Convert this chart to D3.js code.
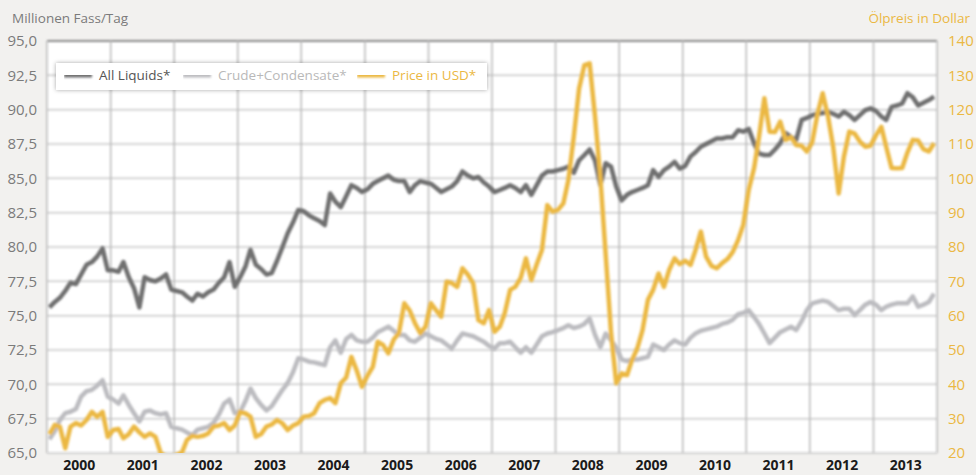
<!DOCTYPE html>
<html>
<head>
<meta charset="utf-8">
<script src="https://cdn.jsdelivr.net/npm/d3@7"></script>
<style>
  body { margin: 0; background: #f2f1ef; }
  svg { display: block; font-family: "Open Sans", "Noto Sans", sans-serif; }
</style>
</head>
<body>
<svg id="chart"></svg>
<script>
// monthly values, Jan 2000 .. Dec 2013
const allLiquids = [
  75.6, 76.0, 76.3, 76.8, 77.4, 77.3, 78.0, 78.7, 78.9, 79.3, 79.9, 78.3,
  78.3, 78.2, 78.9, 77.8, 77.0, 75.6, 77.8, 77.6, 77.5, 77.7, 78.0, 76.9,
  76.8, 76.7, 76.4, 76.1, 76.6, 76.4, 76.7, 76.9, 77.4, 77.8, 78.9, 77.1,
  77.8, 78.6, 79.8, 78.7, 78.4, 78.0, 78.1, 79.0, 80.0, 81.0, 81.8, 82.7,
  82.6, 82.3, 82.1, 81.9, 81.6, 83.9, 83.3, 82.9, 83.7, 84.5, 84.3, 84.0,
  84.2, 84.6, 84.8, 85.0, 85.2, 84.9, 84.8, 84.8, 84.0, 84.5, 84.8, 84.7,
  84.6, 84.3, 84.0, 84.2, 84.4, 84.8, 85.5, 85.2, 85.0, 85.1, 84.7, 84.4,
  84.0, 84.15, 84.3, 84.5, 84.3, 84.0, 84.5, 83.8, 84.5, 85.2, 85.5, 85.5,
  85.6, 85.7, 85.85, 85.4, 86.3, 86.7, 87.1, 86.3, 84.5, 86.1, 85.85, 84.4,
  83.4, 83.8, 84.0, 84.15, 84.3, 84.5, 85.6, 85.1, 85.6, 85.85, 86.2, 85.7,
  85.9, 86.6, 86.9, 87.3, 87.5, 87.7, 87.9, 87.9, 88.0, 88.0, 88.5, 88.4,
  88.6, 87.55, 86.8, 86.7, 86.7, 87.1, 87.55, 88.3, 88.0, 87.8, 89.25, 89.4,
  89.6, 89.7, 89.75, 89.85, 89.7, 89.5, 89.85, 89.6, 89.25, 89.6, 89.97, 90.1,
  89.9, 89.5, 89.25, 90.2, 90.3, 90.45, 91.2, 90.9, 90.3, 90.5, 90.7, 90.95
];

const crude = [
  66.0, 66.6, 67.4, 67.9, 68.0, 68.2, 69.1, 69.5, 69.6, 69.9, 70.3, 69.1,
  68.9, 68.6, 69.2, 68.5, 67.9, 67.3, 68.0, 68.1, 67.9, 67.8, 67.9, 66.9,
  66.8, 66.7, 66.5, 66.3, 66.7, 66.8, 66.9, 67.2, 67.8, 68.6, 68.9, 67.9,
  68.0, 68.8, 69.7, 69.0, 68.5, 68.1, 68.4, 69.0, 69.6, 70.1, 70.9, 71.9,
  71.8, 71.65, 71.6, 71.5, 71.4, 72.7, 73.2, 72.3, 73.3, 73.6, 73.2, 73.1,
  73.1, 73.4, 73.8, 74.0, 74.2, 73.9, 73.6, 73.6, 73.2, 73.1, 73.4, 73.7,
  73.5, 73.3, 73.2, 72.9, 72.6, 73.2, 73.7, 73.6, 73.5, 73.3, 73.1, 72.8,
  72.6, 73.0, 73.0, 73.1, 72.7, 72.3, 72.7, 72.3, 72.9, 73.5, 73.7, 73.8,
  73.95, 74.1, 74.3, 74.1, 74.2, 74.4, 74.8, 73.6, 72.7, 73.7, 73.2, 72.7,
  71.8, 71.7, 71.8, 71.8, 71.9, 72.0, 72.9, 72.7, 72.5, 72.9, 73.2, 73.0,
  72.9, 73.4, 73.7, 73.9, 74.0, 74.1, 74.2, 74.4, 74.5, 74.7, 75.1, 75.2,
  75.4, 74.9, 74.4, 73.7, 73.0, 73.4, 73.8, 74.0, 74.2, 73.95, 74.6, 75.4,
  75.9, 76.0, 76.1, 76.0, 75.7, 75.4, 75.5, 75.5, 75.05, 75.4, 75.8, 76.0,
  75.8, 75.4, 75.65, 75.8, 75.9, 75.9, 75.9, 76.4, 75.65, 75.8, 76.0, 76.6
];

const price = [
  25.5, 28.2, 27.7, 21.4, 27.7, 28.7, 28.0, 29.6, 32.0, 30.5, 32.0, 24.7,
  26.7, 27.0, 24.3, 25.5, 27.7, 26.0, 24.7, 25.7, 24.7, 20.0, 18.8, 18.6,
  19.4, 20.2, 23.8, 25.0, 24.7, 25.0, 25.7, 27.7, 28.0, 28.7, 26.7, 28.0,
  32.0, 31.5, 30.6, 24.7, 25.5, 27.7, 28.3, 29.6, 28.6, 26.7, 28.0, 28.7,
  30.6, 30.8, 31.6, 34.5, 35.5, 36.0, 34.5, 40.3, 42.0, 48.0, 44.0, 39.3,
  42.5, 45.1, 52.4, 51.5, 49.0, 53.0, 54.9, 63.6, 61.5, 57.8, 54.9, 56.8,
  63.6, 61.5, 59.7, 69.9, 69.5, 68.4, 73.8, 72.0, 69.4, 58.7, 57.8, 61.6,
  55.3, 56.8, 60.7, 67.5, 68.4, 71.0, 76.7, 70.4, 75.0, 79.1, 92.2, 90.3,
  90.8, 92.7, 99.5, 112.1, 126.0, 133.0, 133.5, 118.0, 100.0, 78.0, 55.0, 40.3,
  43.2, 42.7, 47.0, 50.5, 55.8, 64.6, 67.5, 72.3, 68.4, 73.3, 76.7, 75.0,
  76.0, 74.8, 79.0, 84.5, 77.2, 74.5, 73.8, 75.3, 76.5, 78.5, 82.0, 86.5,
  96.6, 103.0, 112.0, 123.3, 113.6, 113.5, 116.5, 111.2, 112.0, 109.7, 109.5, 107.8,
  110.5, 118.9, 124.8, 118.0, 109.0, 95.6, 106.3, 113.6, 113.0, 110.7, 109.2, 109.5,
  112.5, 115.0, 109.2, 103.0, 102.9, 103.0, 107.5, 111.2, 111.0, 108.5, 107.8, 110.2
];

const years = [2000, 2001, 2002, 2003, 2004, 2005, 2006, 2007, 2008, 2009, 2010, 2011, 2012, 2013];
const leftTicks = [65, 67.5, 70, 72.5, 75, 77.5, 80, 82.5, 85, 87.5, 90, 92.5, 95];
const rightTicks = [20, 30, 40, 50, 60, 70, 80, 90, 100, 110, 120, 130, 140];
const seriesNames = ["All Liquids*", "Crude+Condensate*", "Price in USD*"];

const width = 976;
const height = 475;
const margin = {top: 41, right: 39, bottom: 22, left: 47};
const colors = {
  all: '#6f6f70',
  crude: '#bcbcc0',
  price: '#ebb843',
  axis: '#7b7b7b'
};

const svg = d3.select('#chart')
  .attr('width', width)
  .attr('height', height);

const defs = svg.append('defs');
defs.append('filter').attr('id', 'soft')
    .attr('filterUnits', 'userSpaceOnUse')
    .attr('x', 0).attr('y', 0).attr('width', width).attr('height', height)
  .append('feGaussianBlur').attr('stdDeviation', 0.9);
defs.append('filter').attr('id', 'shadow')
    .attr('x', '-5%').attr('y', '-30%').attr('width', '110%').attr('height', '160%')
  .append('feDropShadow')
    .attr('dx', 0).attr('dy', 0).attr('stdDeviation', 2)
    .attr('flood-color', '#000').attr('flood-opacity', 0.35);
defs.append('clipPath').attr('id', 'plot-clip')
  .append('rect')
    .attr('x', margin.left).attr('y', margin.top)
    .attr('width', width - margin.left - margin.right)
    .attr('height', height - margin.top - margin.bottom);

const x = d3.scaleTime()
    .domain([new Date(years[0], 0, 1), new Date(years[years.length - 1] + 1, 0, 1)])
    .range([margin.left, width - margin.right]);
const yLeft = d3.scaleLinear()
    .domain([leftTicks[0], leftTicks[leftTicks.length - 1]])
    .range([height - margin.bottom, margin.top]);
const yRight = d3.scaleLinear()
    .domain([rightTicks[0], rightTicks[rightTicks.length - 1]])
    .range([height - margin.bottom, margin.top]);

// month index -> date (middle of the month)
const dateOf = i => new Date(years[0] + Math.floor(i / 12), i % 12, 15);

svg.append('rect')
    .attr('x', margin.left).attr('y', margin.top)
    .attr('width', width - margin.left - margin.right)
    .attr('height', height - margin.top - margin.bottom)
    .attr('fill', '#fff');

// grid
const grid = svg.append('g').attr('filter', 'url(#soft)');
grid.selectAll('.hline')
  .data(leftTicks)
  .enter().append('line')
    .attr('class', 'hline')
    .attr('x1', margin.left).attr('x2', width - margin.right)
    .attr('y1', d => yLeft(d)).attr('y2', d => yLeft(d))
    .attr('stroke', (d, i) => i === leftTicks.length - 1 ? '#8a8a8a' : '#c9c9c9')
    .attr('stroke-width', (d, i) => i === leftTicks.length - 1 ? 2 : 1.5);
grid.selectAll('.vline')
  .data(years.concat([years[years.length - 1] + 1]))
  .enter().append('line')
    .attr('class', 'vline')
    .attr('x1', d => x(new Date(d, 0, 1))).attr('x2', d => x(new Date(d, 0, 1)))
    .attr('y1', margin.top).attr('y2', height - margin.bottom)
    .attr('stroke', '#b9b9b9')
    .attr('stroke-width', 1.5);

// lines
const lineLeft = d3.line()
    .x((d, i) => x(dateOf(i)))
    .y(d => yLeft(d));
const lineRight = d3.line()
    .x((d, i) => x(dateOf(i)))
    .y(d => yRight(d));

const lines = svg.append('g')
    .attr('clip-path', 'url(#plot-clip)')
  .append('g')
    .attr('filter', 'url(#soft)');

[[crude, lineLeft, colors.crude], [allLiquids, lineLeft, colors.all], [price, lineRight, colors.price]]
  .forEach(([values, line, color]) => {
    lines.append('path')
        .datum(values)
        .attr('d', line)
        .attr('fill', 'none')
        .attr('stroke', color)
        .attr('stroke-width', 4.5)
        .attr('stroke-linejoin', 'round');
  });

// axes
const fmt = d3.format('.1f');
svg.append('g')
    .attr('transform', 'translate(' + (margin.left - 7) + ',0)')
    .call(d3.axisLeft(yLeft).tickValues(leftTicks).tickSize(0).tickFormat(d => fmt(d).replace('.', ',')))
    .call(g => g.select('.domain').remove())
    .call(g => g.selectAll('text')
        .attr('fill', colors.axis)
        .attr('font-size', 15)
        .attr('font-family', '"Open Sans", sans-serif'));

svg.append('g')
    .attr('transform', 'translate(' + (width - margin.right + 8) + ',0)')
    .call(d3.axisRight(yRight).tickValues(rightTicks).tickSize(0))
    .call(g => g.select('.domain').remove())
    .call(g => g.selectAll('text')
        .attr('fill', colors.price)
        .attr('font-size', 15)
        .attr('font-family', '"Open Sans", sans-serif'));

svg.append('g')
    .attr('transform', 'translate(0,' + (height - margin.bottom + 4) + ')')
    .call(d3.axisBottom(x)
        .tickValues(years.map(yr => new Date(yr, 6, 2)))
        .tickSize(0)
        .tickFormat(d3.timeFormat('%Y')))
    .call(g => g.select('.domain').remove())
    .call(g => g.selectAll('text')
        .attr('fill', '#1b1b1b')
        .attr('font-size', 14)
        .attr('font-weight', 'bold')
        .attr('font-family', '"Open Sans", sans-serif'));

svg.append('text')
    .attr('x', 12).attr('y', 23)
    .attr('fill', colors.axis)
    .attr('font-size', 13.5)
    .text('Millionen Fass/Tag');
svg.append('text')
    .attr('x', width - 6).attr('y', 23)
    .attr('text-anchor', 'end')
    .attr('fill', colors.price)
    .attr('font-size', 13.5)
    .text('Ölpreis in Dollar');

// legend
const legend = svg.append('g');
legend.append('rect')
    .attr('x', 56).attr('y', 63)
    .attr('width', 431).attr('height', 27)
    .attr('fill', '#fff')
    .attr('filter', 'url(#shadow)');

const legendItems = [
  {name: seriesNames[0], color: colors.all, text: '#555', x: 64},
  {name: seriesNames[1], color: colors.crude, text: '#b9b9b9', x: 183},
  {name: seriesNames[2], color: colors.price, text: colors.price, x: 357}
];
const item = legend.selectAll('.item')
  .data(legendItems)
  .enter().append('g')
    .attr('class', 'item')
    .attr('transform', d => 'translate(' + d.x + ',75)');
item.append('rect')
    .attr('x', 0).attr('y', -2).attr('width', 28).attr('height', 4.5)
    .attr('fill', d => d.color)
    .attr('filter', 'url(#soft)');
item.append('text')
    .attr('x', 35).attr('y', 5)
    .attr('fill', d => d.text)
    .attr('font-size', 13.5)
    .text(d => d.name);
</script>
</body>
</html>
